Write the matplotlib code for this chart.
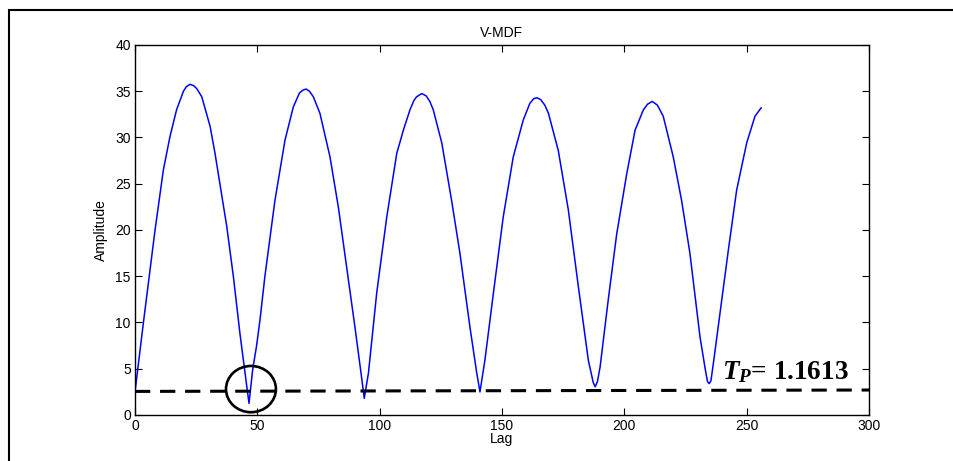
import matplotlib
matplotlib.use('Agg')
import matplotlib.pyplot as plt
from matplotlib.patches import Ellipse, Rectangle

# values
lag = [0, 3.4, 8.2, 11.6, 14.3, 17.0, 19.8, 21.0, 22.5, 24.0, 25.2, 27.3, 30.7,
       32.7, 34.7, 37.5, 40.2, 42.9, 45.0, 46.6, 48.1, 49.7, 51.1, 53.1, 57.2,
       61.3, 64.7, 67.2, 68.5, 69.9, 71.3, 72.9, 75.6, 79.7, 83.1, 86.5, 89.9,
       92.4, 93.7, 95.4, 98.8, 102.9, 107.0, 109.7, 112.4, 114.0, 115.1, 117.2,
       119.0, 120.5, 121.9, 125.4, 129.4, 132.8, 136.9, 139.7, 141.0, 143.0,
       146.5, 150.5, 154.6, 158.7, 161.4, 163.0, 164.2, 165.8, 167.5, 169.0,
       173.0, 177.1, 181.2, 185.3, 187.3, 188.1, 189.0, 190.1, 193.4, 196.9,
       201.0, 204.4, 207.8, 209.5, 211.4, 213.5, 215.9, 220.0, 223.4, 226.8,
       230.9, 233.1, 234.0, 234.7, 235.4, 236.4, 239.1, 242.5, 245.9, 250.0,
       253.4, 255.9]
amplitude = [2.5, 9.9, 20.0, 26.5, 30.1, 33.0, 35.0, 35.5, 35.75, 35.6, 35.3,
             34.4, 31.2, 28.3, 25.0, 20.4, 15.0, 8.8, 4.5, 1.26, 4.9, 7.5, 10.3,
             15.0, 23.2, 29.7, 33.3, 34.8, 35.1, 35.24, 35.0, 34.4, 32.6, 27.9,
             22.5, 16.0, 9.5, 4.5, 1.8, 4.5, 13.2, 21.4, 28.3, 30.8, 33.0, 34.0,
             34.4, 34.75, 34.5, 33.9, 33.0, 29.4, 23.2, 17.5, 9.5, 4.5, 2.5,
             5.9, 13.2, 21.4, 27.9, 31.9, 33.7, 34.2, 34.3, 34.1, 33.5, 32.6,
             28.6, 22.2, 13.9, 5.9, 3.5, 3.06, 3.6, 5.2, 12.4, 19.6, 26.1, 30.8,
             33.0, 33.6, 33.9, 33.5, 32.3, 27.9, 23.2, 17.5, 8.5, 4.9, 3.6, 3.4,
             3.7, 5.6, 11.0, 17.8, 24.3, 29.4, 32.3, 33.2]

threshold_x = [0, 300]
threshold_y = [2.55, 2.7]
threshold_label = r'$T_P$= 1.1613'

plt.rcParams['font.family'] = ['Liberation Sans', 'DejaVu Sans']
plt.rcParams['mathtext.fontset'] = 'custom'
plt.rcParams['mathtext.rm'] = 'Liberation Serif:bold'
plt.rcParams['mathtext.it'] = 'Liberation Serif:italic:bold'
plt.rcParams['mathtext.bf'] = 'Liberation Serif:bold'

fig = plt.figure(figsize=(9.54, 4.61), dpi=100)
ax = fig.add_axes([0.1415, 0.0998, 0.7694, 0.8026])

ax.plot(lag, amplitude, color='#0000ff', linewidth=1.1)
ax.plot(threshold_x, threshold_y, color='black', linewidth=2.2,
        dashes=(5, 3.2))

ax.add_patch(Ellipse((47.4, 2.8), 20.4, 5.0, fill=False,
                     edgecolor='black', linewidth=1.9, zorder=4))

ax.text(240.0, 3.9, threshold_label, fontsize=19.5,
        family='Liberation Serif', fontweight='bold', ha='left', va='baseline')

ax.set_xlim(0, 300)
ax.set_ylim(0, 40)
ax.set_xticks(range(0, 301, 50))
ax.set_yticks(range(0, 41, 5))
ax.tick_params(direction='in', length=5, width=0.8, labelsize=10,
               top=True, right=True, pad=3)
for s in ax.spines.values():
    s.set_linewidth(1.0)

ax.set_title('V-MDF', fontsize=10, pad=6)
ax.set_xlabel('Lag', fontsize=10, labelpad=-0.5)
ax.set_ylabel('Amplitude', fontsize=10, labelpad=5)

# outer frame of the original figure (cut off at right and bottom)
fig.patches.append(Rectangle((9 / 954, -0.2), 1.2, 0.2 + (461 - 10) / 461,
                             transform=fig.transFigure, fill=False,
                             edgecolor='black', linewidth=1.5))

fig.savefig('out.png', dpi=100)
